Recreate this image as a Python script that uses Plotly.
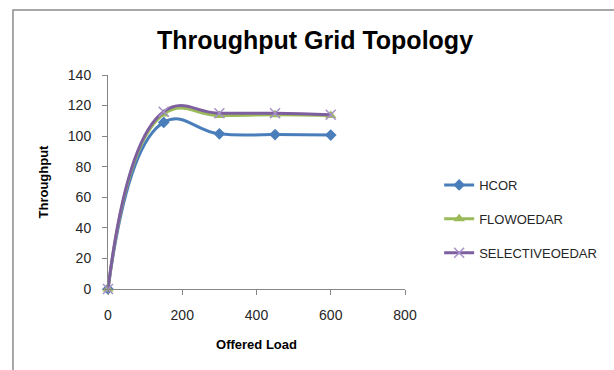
import plotly.graph_objects as go

offered_load = [0, 150, 300, 450, 600]
hcor = [0, 109, 101.5, 101, 100.7]
flowoedar = [0, 114.5, 113.5, 114, 113.5]
selectiveoedar = [0, 116, 115, 115, 114]

series_names = ["HCOR", "FLOWOEDAR", "SELECTIVEOEDAR"]
x_ticks = [0, 200, 400, 600, 800]
y_ticks = [0, 20, 40, 60, 80, 100, 120, 140]

font_family = "Liberation Sans, Arial, sans-serif"

fig = go.Figure()
styles = [
    (hcor, "#4A7EBB", dict(symbol="diamond", size=9, color="#4A7EBB")),
    (flowoedar, "#9BBB59", dict(symbol="triangle-up", size=10, color="#9BBB59")),
    (selectiveoedar, "#7D5FA0", dict(symbol="x-thin-open", size=10, color="#A890C8",
                                      line=dict(width=1.5, color="#A890C8"))),
]
for name, (vals, col, mk) in zip(series_names, styles):
    fig.add_trace(go.Scatter(
        x=offered_load, y=vals, name=name, legendgroup=name,
        mode="lines+markers",
        line=dict(color=col, width=3, shape="spline", smoothing=1.3),
        marker=mk, cliponaxis=False,
    ))

axis_col = "#868686"
fig.update_layout(
    width=614, height=370,
    margin=dict(l=108, r=209, t=75, b=81),
    paper_bgcolor="white", plot_bgcolor="white",
    font=dict(family=font_family, size=13, color="#262626"),
    title=dict(text="<b>Throughput Grid Topology</b>", x=0.513, xanchor="center",
               y=0.89, yanchor="middle",
               font=dict(size=25, color="black", family=font_family)),
    showlegend=True,
    legend=dict(x=1.115, y=0.327, xanchor="left", yanchor="middle",
                font=dict(size=13, color="#262626", family=font_family),
                tracegroupgap=14, itemwidth=30,
                bgcolor="rgba(0,0,0,0)"),
    xaxis=dict(range=[0, 800], tickvals=x_ticks, showgrid=False, zeroline=False,
               showline=True, linecolor=axis_col, linewidth=1,
               ticks="outside", ticklen=5, tickcolor=axis_col,
               ticklabelstandoff=8,
               tickfont=dict(size=14, color="#262626"),
               title=dict(text="<b>Offered Load</b>", font=dict(size=13, color="black"),
                          standoff=18)),
    yaxis=dict(range=[0, 140], tickvals=y_ticks, showgrid=False, zeroline=False,
               showline=True, linecolor=axis_col, linewidth=1,
               ticks="outside", ticklen=5, tickcolor=axis_col,
               ticklabelstandoff=8,
               tickfont=dict(size=14, color="#262626"),
               title=dict(text="<b>Throughput</b>", font=dict(size=13, color="black"),
                          standoff=16)),
)
fig.add_shape(type="rect", xref="paper", yref="paper",
              x0=-0.32, x1=2.0, y0=-0.6, y1=1.3037,
              line=dict(color="#8C8C8C", width=1.5), layer="below")
fig.write_html("out.html")
